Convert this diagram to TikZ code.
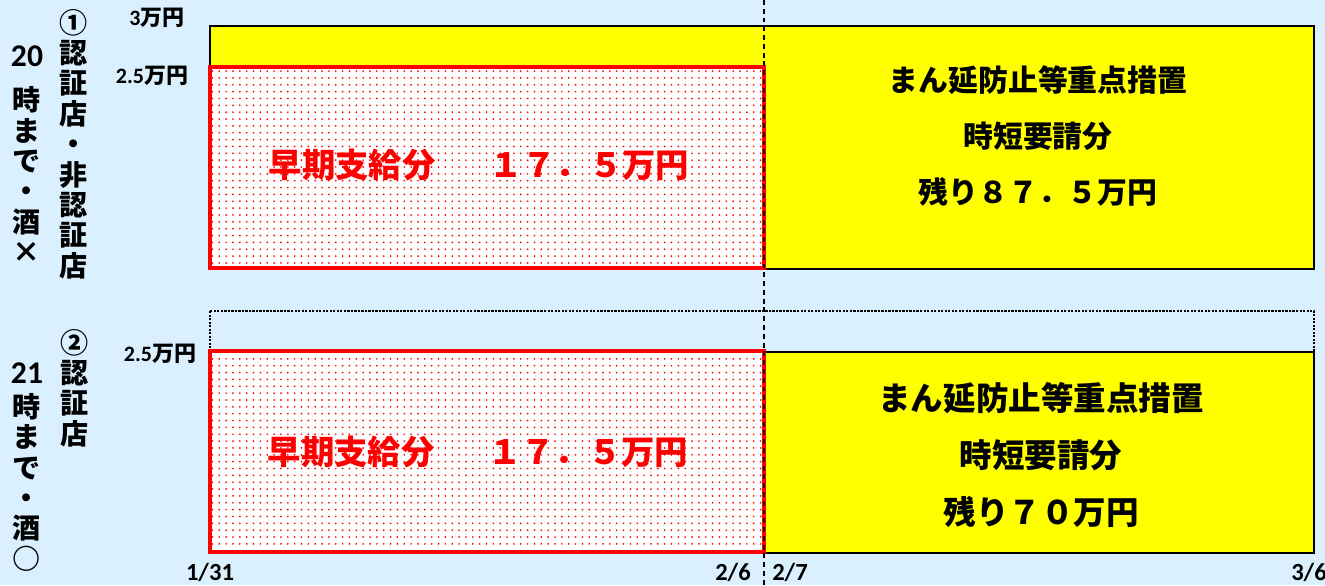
\documentclass[tikz,border=0pt]{standalone}
\usepackage{fontspec}
\newfontfamily\jp{Noto Sans CJK JP}
\newfontfamily\lat{Carlito}
\usetikzlibrary{patterns.meta}
\definecolor{bgblue}{HTML}{DAF0FE}
\definecolor{barred}{HTML}{FF0000}
\definecolor{baryellow}{HTML}{FFFF00}
\tikzset{
  paidbar/.style={preaction={fill=white}, pattern={Dots[distance=3.9pt,radius=0.55pt]},
    pattern color=barred, draw=barred, line width=2.3pt},
  restbar/.style={fill=baryellow, draw=black, line width=1.2pt},
  vtext/.style={align=center, inner sep=0pt, font=\jp\bfseries\fontsize{16}{17.3}\selectfont},
  ylabel/.style={inner sep=0pt, font=\bfseries\fontsize{12.5}{14}\selectfont},
  datelabel/.style={inner sep=0pt, font=\lat\bfseries\fontsize{14}{15}\selectfont},
  paidtext/.style={inner sep=0pt, text=barred, font=\jp\bfseries\fontsize{19}{20}\selectfont},
  resttext/.style={align=center, inner sep=0pt, font=\jp\bfseries\fontsize{17}{32}\selectfont}
}
\begin{document}
\begin{tikzpicture}[x=0.02cm,y=-0.02cm]
\useasboundingbox (0,0) rectangle (1325,585);
\fill[bgblue] (0,0) rectangle (1325,585);

% Row 1: certified and non-certified shops
\draw[restbar] (210,26) rectangle (1314,269);
\draw[paidbar] (210,67) rectangle (764,268);
\node[paidtext] (paid1) at (479,165) {早期支給分\hspace{1.6em}１７．５万円};
\node[resttext] (rest1) at (1038,136) {まん延防止等重点措置\\時短要請分\\残り８７．５万円};

% Row 2: certified shops
\draw[black, line width=0.8pt, dash pattern=on 1.3pt off 0.7pt] (210,311) rectangle (1314,352);
\draw[restbar] (764,352) rectangle (1314,553);
\draw[paidbar] (210,351) rectangle (764,552);
\node[paidtext] (paid2) at (478,452) {早期支給分\hspace{1.6em}１７．５万円};
\node[resttext, font=\jp\bfseries\fontsize{18.5}{32.5}\selectfont] (rest2) at (1041,455) {まん延防止等重点措置\\時短要請分\\残り７０万円};

% Row labels
\node[vtext] (shop1) at (74,144) {①\\認\\証\\店\\・\\非\\認\\証\\店};
\node[vtext] (hours1) at (27,154) {{\lat\bfseries\fontsize{18}{17.3}\selectfont 20}\\[8pt]時\\ま\\で\\・\\酒\\×};
\node[vtext] (shop2) at (75,388) {②\\認\\証\\店};
\node[vtext] (hours2) at (27,467) {{\lat\bfseries\fontsize{18}{17.3}\selectfont 21}\\[2pt]時\\ま\\で\\・\\酒\\○};

% Amount labels
\node[ylabel] (amt3) at (157,18) {{\lat 3}{\jp 万円}};
\node[ylabel] (amt25a) at (152,76) {{\lat 2.5}{\jp 万円}};
\node[ylabel] (amt25b) at (160,354) {{\lat 2.5}{\jp 万円}};

% Dates
\node[datelabel] (d0131) at (210,572) {1/31};
\node[datelabel] (d0206) at (733,572) {2/6};
\node[datelabel] (d0207) at (790,572) {2/7};
\node[datelabel] (d0306) at (1309,572) {3/6};

% Date split
\draw[black, line width=0.8pt, dash pattern=on 2.8pt off 2.2pt] (764,0) -- (764,585);
\end{tikzpicture}
\end{document}
